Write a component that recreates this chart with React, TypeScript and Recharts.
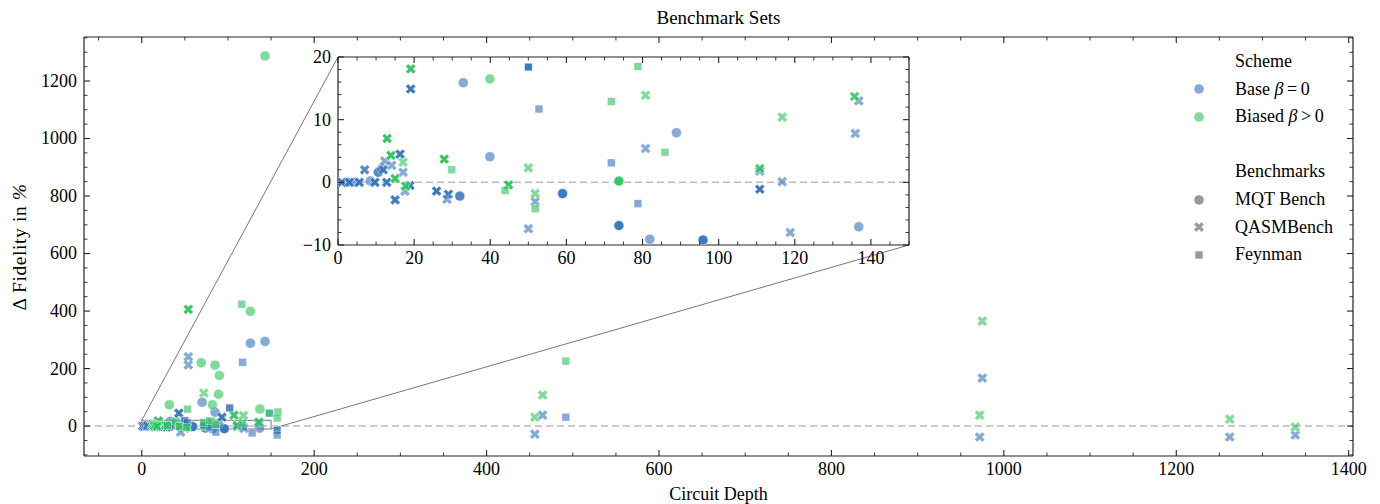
import React from 'react';
import { ScatterChart, Scatter, XAxis, YAxis, ReferenceLine, ReferenceArea, Label } from 'recharts';

// [circuit depth, Δ fidelity in %, number of overlapping runs (optional)]
type Pt = [number, number, number?];

const baseMqt: Pt[] = [
  [2.5, 0], [4.5, 0], [8.5, 0.2], [10.6, 1.6, 2], [11.5, 2.2],
  [32.9, 15.9], [39.9, 4.1], [32, -2.2, 2], [59, -1.8, 3], [73.8, -6.9, 3],
  [81.9, -9.1], [95.9, -9.2, 3], [88.9, 7.9], [136.8, -7.1],
  [126, 288], [143, 294], [70, 83], [85, 48],
];
const biasedMqt: Pt[] = [
  [39.9, 16.5], [73.8, 0.2, 3],
  [143, 1287], [126, 399], [69, 220], [85, 212], [90, 176], [89, 111], [32, 74], [82, 74], [137, 59],
];
const baseQasm: Pt[] = [
  [1, 0, 3], [3, 0, 3], [5.6, 0, 3], [9.7, 0, 3], [12.8, 0, 3],
  [7, 2.0, 2], [12.3, 3.4], [11.9, 2.0, 2], [14.1, 2.7], [16.3, 4.5, 3], [17.1, 1.6], [17.6, -1.4],
  [18.9, -0.5, 3], [15, -2.8, 3], [19.1, 14.9, 3], [25.9, -1.4, 3], [29, -1.9, 3], [28.6, -2.7],
  [50, -7.4], [51.8, -3.1], [80.8, 5.4], [110.8, 1.8], [110.8, -1.1, 3], [116.7, 0.1], [118.8, -8.0],
  [136.8, 13.0], [135.9, 7.8],
  [54, 241], [54, 213], [43, 45, 3], [93, 31, 3], [45, -21],
  [456, -28], [465, 38], [972, -38], [975, 167], [1262, -38], [1338, -31],
];
const biasedQasm: Pt[] = [
  [19.1, 18.1, 3], [12.9, 7.0, 3], [13.9, 4.3, 3], [17.1, 3.2], [15, 0.6, 3], [17.8, -0.6, 3],
  [27.9, 3.7, 3], [44.8, -0.4, 3], [50, 2.3], [51.8, -1.8], [80.8, 13.9], [110.8, 2.2, 2],
  [116.7, 10.4], [135.7, 13.7, 2],
  [54, 406, 3], [72, 115], [107, 38, 3], [118, 37],
  [456, 31], [465, 108], [972, 38], [975, 365], [1262, 24], [1338, -3],
];
const baseFeyn: Pt[] = [
  [50, 18.4, 3], [52.8, 11.7], [71.8, 3.1], [78.8, -3.4],
  [117, 222], [102, 63, 2], [86, -21], [128, -24], [157, -14, 2], [157, -31], [148, 45], [492, 31],
];
const biasedFeyn: Pt[] = [
  [29.9, 2.0], [43.9, -1.3], [51.8, -4.2], [71.8, 12.9], [78.8, 18.5], [85.9, 4.8],
  [116, 424], [53, 59], [148, 45], [158, 49], [157, 28], [492, 226],
];

const mainXMajor = [0, 200, 400, 600, 800, 1000, 1200, 1400];
const mainYMajor = [0, 200, 400, 600, 800, 1000, 1200];
const insetXMajor = [0, 20, 40, 60, 80, 100, 120, 140];
const insetYMajor = [-10, 0, 10, 20];

const schemeLabels = ['Base', 'Biased'];
const benchLabels = ['MQT Bench', 'QASMBench', 'Feynman'];

const FONT = "'Liberation Serif', 'Times New Roman', Times, 'DejaVu Serif', serif";
const BLUE = '#3271BB';
const GREEN = '#2AC35A';
const AXIS = '#222';
const TEXT = '#000';

const W = 1380;
const H = 504;
const MAIN = { left: 84, top: 37, right: 1353, bottom: 456 };
const X_DOMAIN: [number, number] = [-67, 1405];
const Y_DOMAIN: [number, number] = [-104, 1353];
const INSET = { left: 338, top: 57, right: 909, bottom: 245 };
const IX_DOMAIN: [number, number] = [0, 150];
const IY_DOMAIN: [number, number] = [-10, 20];

const steps = (a: number, b: number, s: number) => {
  const r: number[] = [];
  for (let i = 0; a + i * s <= b + 1e-9; i++) r.push(Math.round((a + i * s) * 1000) / 1000);
  return r;
};
const mainXTicks = steps(-50, 1400, 50);
const mainYTicks = steps(-100, 1350, 50);
const insetXTicks = steps(0, 150, 5);
const insetYTicks = steps(-10, 20, 2);

const toObj = (d: Pt[]) => d.map(([depth, delta, k]) => ({ depth, delta, k: k ?? 1 }));
const inInset = (d: Pt[]) => d.filter(([x, y]) => x >= -3 && x <= 153 && y >= -12 && y <= 22);

const pxToX = (px: number) => X_DOMAIN[0] + ((px - MAIN.left) / (MAIN.right - MAIN.left)) * (X_DOMAIN[1] - X_DOMAIN[0]);
const pxToY = (py: number) => Y_DOMAIN[1] - ((py - MAIN.top) / (MAIN.bottom - MAIN.top)) * (Y_DOMAIN[1] - Y_DOMAIN[0]);

const fmt = (v: number) => (v < 0 ? '\u2212' + Math.abs(v) : String(v));

type Kind = 'circle' | 'x' | 'square';

const Glyph = ({ kind, cx, cy, color, op }: { kind: Kind; cx: number; cy: number; color: string; op: number }) => {
  const common = { fill: color, fillOpacity: op, stroke: '#fff', strokeOpacity: op, strokeWidth: 0.6 };
  if (kind === 'circle') return <circle cx={cx} cy={cy} r={5} {...common} />;
  if (kind === 'square') return <rect x={cx - 3.9} y={cy - 3.9} width={7.8} height={7.8} {...common} />;
  const h = 5.4;
  const w = 1.8;
  const pts: [number, number][] = [
    [w, h], [-w, h], [-w, w], [-h, w], [-h, -w], [-w, -w], [-w, -h], [w, -h], [w, -w], [h, -w], [h, w], [w, w],
  ];
  const s = Math.SQRT1_2;
  const d = pts.map(([x, y]) => `${(cx + (x - y) * s).toFixed(2)},${(cy + (x + y) * s).toFixed(2)}`).join(' ');
  return <polygon points={d} {...common} />;
};

const makeShape = (kind: Kind, color: string) => (props: any) => {
  const { cx, cy, payload } = props;
  if (cx == null || cy == null || isNaN(cx) || isNaN(cy)) return <g />;
  const k = payload && payload.k ? payload.k : 1;
  const op = 1 - Math.pow(0.4, k);
  return <Glyph kind={kind} cx={cx} cy={cy} color={color} op={op} />;
};

const series = [
  { key: 'bm', data: baseMqt, kind: 'circle' as Kind, color: BLUE },
  { key: 'gm', data: biasedMqt, kind: 'circle' as Kind, color: GREEN },
  { key: 'bq', data: baseQasm, kind: 'x' as Kind, color: BLUE },
  { key: 'gq', data: biasedQasm, kind: 'x' as Kind, color: GREEN },
  { key: 'bf', data: baseFeyn, kind: 'square' as Kind, color: BLUE },
  { key: 'gf', data: biasedFeyn, kind: 'square' as Kind, color: GREEN },
];

const tickFactory = (side: 'bottom' | 'top' | 'left' | 'right', majors: number[], withLabel: boolean) =>
  (props: any) => {
    const { x, y, payload } = props;
    const v = payload.value;
    const isMajor = majors.includes(v);
    const len = isMajor ? 6 : 3.5;
    let x2 = x;
    let y2 = y;
    if (side === 'bottom') y2 = y - len;
    else if (side === 'top') y2 = y + len;
    else if (side === 'left') x2 = x + len;
    else x2 = x - len;
    const lab = withLabel && isMajor ? fmt(v) : null;
    return (
      <g>
        <line x1={x} y1={y} x2={x2} y2={y2} stroke={AXIS} strokeWidth={isMajor ? 1.1 : 0.9} />
        {lab && side === 'bottom' && (
          <text x={x} y={y + 5} dy="0.78em" textAnchor="middle" style={{ fontFamily: FONT }} fontSize={18} fill={TEXT}>
            {lab}
          </text>
        )}
        {lab && side === 'left' && (
          <text x={x - 7} y={y} dy="0.33em" textAnchor="end" style={{ fontFamily: FONT }} fontSize={18} fill={TEXT}>
            {lab}
          </text>
        )}
      </g>
    );
  };

const axisLine = { stroke: AXIS, strokeWidth: 1.2 };

const LegendMarker = ({ kind, color, op }: { kind: Kind; color: string; op: number }) => (
  <svg width={14} height={14} style={{ overflow: 'visible' }}>
    <Glyph kind={kind} cx={7} cy={7} color={color} op={op} />
  </svg>
);

const LegendBox = () => {
  const rows: { text: React.ReactNode; marker?: React.ReactNode }[] = [
    { text: 'Scheme' },
    {
      text: (<span>{schemeLabels[0]} <i>β</i>{'\u2009=\u20090'}</span>),
      marker: <LegendMarker kind="circle" color={BLUE} op={0.6} />,
    },
    {
      text: (<span>{schemeLabels[1]} <i>β</i>{'\u2009>\u20090'}</span>),
      marker: <LegendMarker kind="circle" color={GREEN} op={0.6} />,
    },
    { text: '' },
    { text: 'Benchmarks' },
    { text: benchLabels[0], marker: <LegendMarker kind="circle" color="#555" op={0.6} /> },
    { text: benchLabels[1], marker: <LegendMarker kind="x" color="#555" op={0.6} /> },
    { text: benchLabels[2], marker: <LegendMarker kind="square" color="#555" op={0.6} /> },
  ];
  return (
    <div style={{ position: 'absolute', left: 1190, top: 48, width: 170, fontFamily: FONT, fontSize: 18, color: TEXT }}>
      {rows.map((r, i) => (
        <div key={i} style={{ position: 'absolute', top: i * 27.6, left: 0, height: 27, display: 'flex', alignItems: 'center', whiteSpace: 'nowrap' }}>
          <div style={{ width: 43, display: 'flex', justifyContent: 'flex-start', paddingLeft: 2 }}>{r.marker}</div>
          <div>{r.text}</div>
        </div>
      ))}
    </div>
  );
};

export default function App() {
  const c0 = { x: 0, y: 20 };
  const c1 = { x: pxToX(INSET.left), y: pxToY(INSET.top) };
  const d0 = { x: 150, y: -10 };
  const d1 = { x: pxToX(INSET.right), y: pxToY(INSET.bottom) };
  const insetYAxisW = 50;
  const insetXAxisH = 30;
  const insetTopM = 10;
  const insetRightM = 6;

  return (
    <div style={{ position: 'absolute', left: 0, top: 0, width: W, height: H, background: '#fff', fontFamily: FONT }}>
      <div style={{ position: 'absolute', left: MAIN.left, width: MAIN.right - MAIN.left, top: 7, textAlign: 'center', fontFamily: FONT, fontSize: 19, color: TEXT }}>
        Benchmark Sets
      </div>
      <div style={{ position: 'absolute', left: 0, top: 0 }}>
        <ScatterChart width={W} height={H} margin={{ top: MAIN.top - 1, right: W - MAIN.right - 1, bottom: 0, left: 0 }}>
          <XAxis xAxisId="b" type="number" dataKey="depth" orientation="bottom" height={H - MAIN.bottom}
            domain={X_DOMAIN} allowDataOverflow ticks={mainXTicks} interval={0} tickSize={0} tickMargin={0}
            tickLine={false} axisLine={axisLine} tick={tickFactory('bottom', mainXMajor, true)}>
            <Label content={() => (
              <text x={(MAIN.left + MAIN.right) / 2} y={494} textAnchor="middle" dominantBaseline="central" style={{ fontFamily: FONT }} fontSize={18} fill={TEXT}>Circuit Depth</text>
            )} />
          </XAxis>
          <XAxis xAxisId="t" type="number" dataKey="depth" orientation="top" height={1}
            domain={X_DOMAIN} allowDataOverflow ticks={mainXTicks} interval={0} tickSize={0} tickMargin={0}
            tickLine={false} axisLine={axisLine} tick={tickFactory('top', mainXMajor, false)} />
          <YAxis yAxisId="l" type="number" dataKey="delta" orientation="left" width={MAIN.left}
            domain={Y_DOMAIN} allowDataOverflow ticks={mainYTicks} interval={0} tickSize={0} tickMargin={0}
            tickLine={false} axisLine={axisLine} tick={tickFactory('left', mainYMajor, true)}>
            <Label content={() => (
              <text x={19} y={247} transform={`rotate(-90 19 247)`} textAnchor="middle" dominantBaseline="central" style={{ fontFamily: FONT, letterSpacing: 0.6 }} fontSize={19.5} fill={TEXT}>
                Δ Fidelity in <tspan fontStyle="italic">%</tspan>
              </text>
            )} />
          </YAxis>
          <YAxis yAxisId="r" type="number" dataKey="delta" orientation="right" width={1}
            domain={Y_DOMAIN} allowDataOverflow ticks={mainYTicks} interval={0} tickSize={0} tickMargin={0}
            tickLine={false} axisLine={axisLine} tick={tickFactory('right', mainYMajor, false)} />
          <ReferenceLine xAxisId="b" yAxisId="l" y={0} stroke="#bbb" strokeWidth={1.5} strokeDasharray="7 4" />
          <ReferenceArea xAxisId="b" yAxisId="l" x1={IX_DOMAIN[0]} x2={IX_DOMAIN[1]} y1={IY_DOMAIN[0]} y2={IY_DOMAIN[1]}
            fill="none" fillOpacity={0} stroke="#777" strokeWidth={1} />
          <ReferenceLine xAxisId="b" yAxisId="l" segment={[c0, c1]} stroke="#777" strokeWidth={1} ifOverflow="visible" />
          <ReferenceLine xAxisId="b" yAxisId="l" segment={[d0, d1]} stroke="#777" strokeWidth={1} ifOverflow="visible" />
          {series.map((s) => (
            <Scatter key={s.key} xAxisId="b" yAxisId="l" data={toObj(s.data)} isAnimationActive={false}
              shape={makeShape(s.kind, s.color)} />
          ))}
        </ScatterChart>
      </div>

      <div style={{ position: 'absolute', left: INSET.left, top: INSET.top, width: INSET.right - INSET.left, height: INSET.bottom - INSET.top, background: '#fff' }} />
      <div style={{ position: 'absolute', left: INSET.left - insetYAxisW, top: INSET.top - insetTopM }}>
        <ScatterChart
          width={insetYAxisW + (INSET.right - INSET.left) + insetRightM}
          height={insetTopM + (INSET.bottom - INSET.top) + insetXAxisH}
          margin={{ top: insetTopM - 1, right: insetRightM - 1, bottom: 0, left: 0 }}>
          <XAxis xAxisId="b" type="number" dataKey="depth" orientation="bottom" height={insetXAxisH}
            domain={IX_DOMAIN} allowDataOverflow ticks={insetXTicks} interval={0} tickSize={0} tickMargin={0}
            tickLine={false} axisLine={axisLine} tick={tickFactory('bottom', insetXMajor, true)} />
          <XAxis xAxisId="t" type="number" dataKey="depth" orientation="top" height={1}
            domain={IX_DOMAIN} allowDataOverflow ticks={insetXTicks} interval={0} tickSize={0} tickMargin={0}
            tickLine={false} axisLine={axisLine} tick={tickFactory('top', insetXMajor, false)} />
          <YAxis yAxisId="l" type="number" dataKey="delta" orientation="left" width={insetYAxisW}
            domain={IY_DOMAIN} allowDataOverflow ticks={insetYTicks} interval={0} tickSize={0} tickMargin={0}
            tickLine={false} axisLine={axisLine} tick={tickFactory('left', insetYMajor, true)} />
          <YAxis yAxisId="r" type="number" dataKey="delta" orientation="right" width={1}
            domain={IY_DOMAIN} allowDataOverflow ticks={insetYTicks} interval={0} tickSize={0} tickMargin={0}
            tickLine={false} axisLine={axisLine} tick={tickFactory('right', insetYMajor, false)} />
          <ReferenceLine xAxisId="b" yAxisId="l" y={0} stroke="#bbb" strokeWidth={1.5} strokeDasharray="7 4" />
          {series.map((s) => (
            <Scatter key={s.key} xAxisId="b" yAxisId="l" data={toObj(inInset(s.data))} isAnimationActive={false}
              shape={makeShape(s.kind, s.color)} />
          ))}
        </ScatterChart>
      </div>
      <LegendBox />
    </div>
  );
}
